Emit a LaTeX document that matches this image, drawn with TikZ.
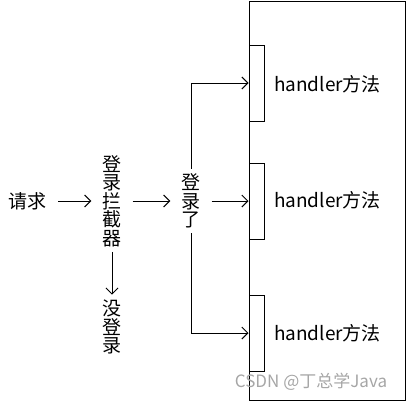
\documentclass[tikz,border=0pt]{standalone}
\usepackage{fontspec}
\setmainfont{Noto Sans CJK SC}
\usetikzlibrary{arrows.meta}
\begin{document}
\begin{tikzpicture}[x=1pt,y=-1pt,
	txt/.style={ inner xsep=11pt, inner ysep=5pt, font=\fontsize{19}{18.5}\selectfont, align=center },
	slot/.style={ draw, line width=1pt, fill=white, minimum width=15pt, minimum height=76pt, inner sep=0pt },
	arr/.style={ line width=1pt, -{Straight Barb[length=6pt,width=12pt]} }
]
\useasboundingbox (0,0) rectangle (409,402);

\node at (327,200.5) (frame) [draw, line width=1pt, minimum width=156pt, minimum height=399pt, inner sep=0pt] {};
\node at (256.5,83) (s1) [slot] {};
\node at (256.5,201) (s2) [slot] {};
\node at (256.5,333) (s3) [slot] {};
\node at (327.5,84) (h1) [txt] {handler方法};
\node at (327.5,200.5) (h2) [txt] {handler方法};
\node at (327.5,333) (h3) [txt] {handler方法};

\node at (28,201) (req) [txt] {请求};
\node at (112,201) (intc) [txt] {登\\录\\拦\\截\\器};
\node at (112,327) (nolog) [txt] {没\\登\\录};
\node at (191,201) (login) [txt] {登\\录\\了};
\draw[arr] (req) -- (intc);
\draw[arr] (intc) -- (nolog);
\draw[arr] (intc) -- (login);
\draw[arr] (login) -- (s2.west);
\draw[arr] (login.north) |- (s1.west);
\draw[arr] (login.south) |- (s3.west);

\node at (311,382) (mark) [font=\fontsize{17}{18}\selectfont, text=black!35] {CSDN @丁总学Java};

\end{tikzpicture}
\end{document}
